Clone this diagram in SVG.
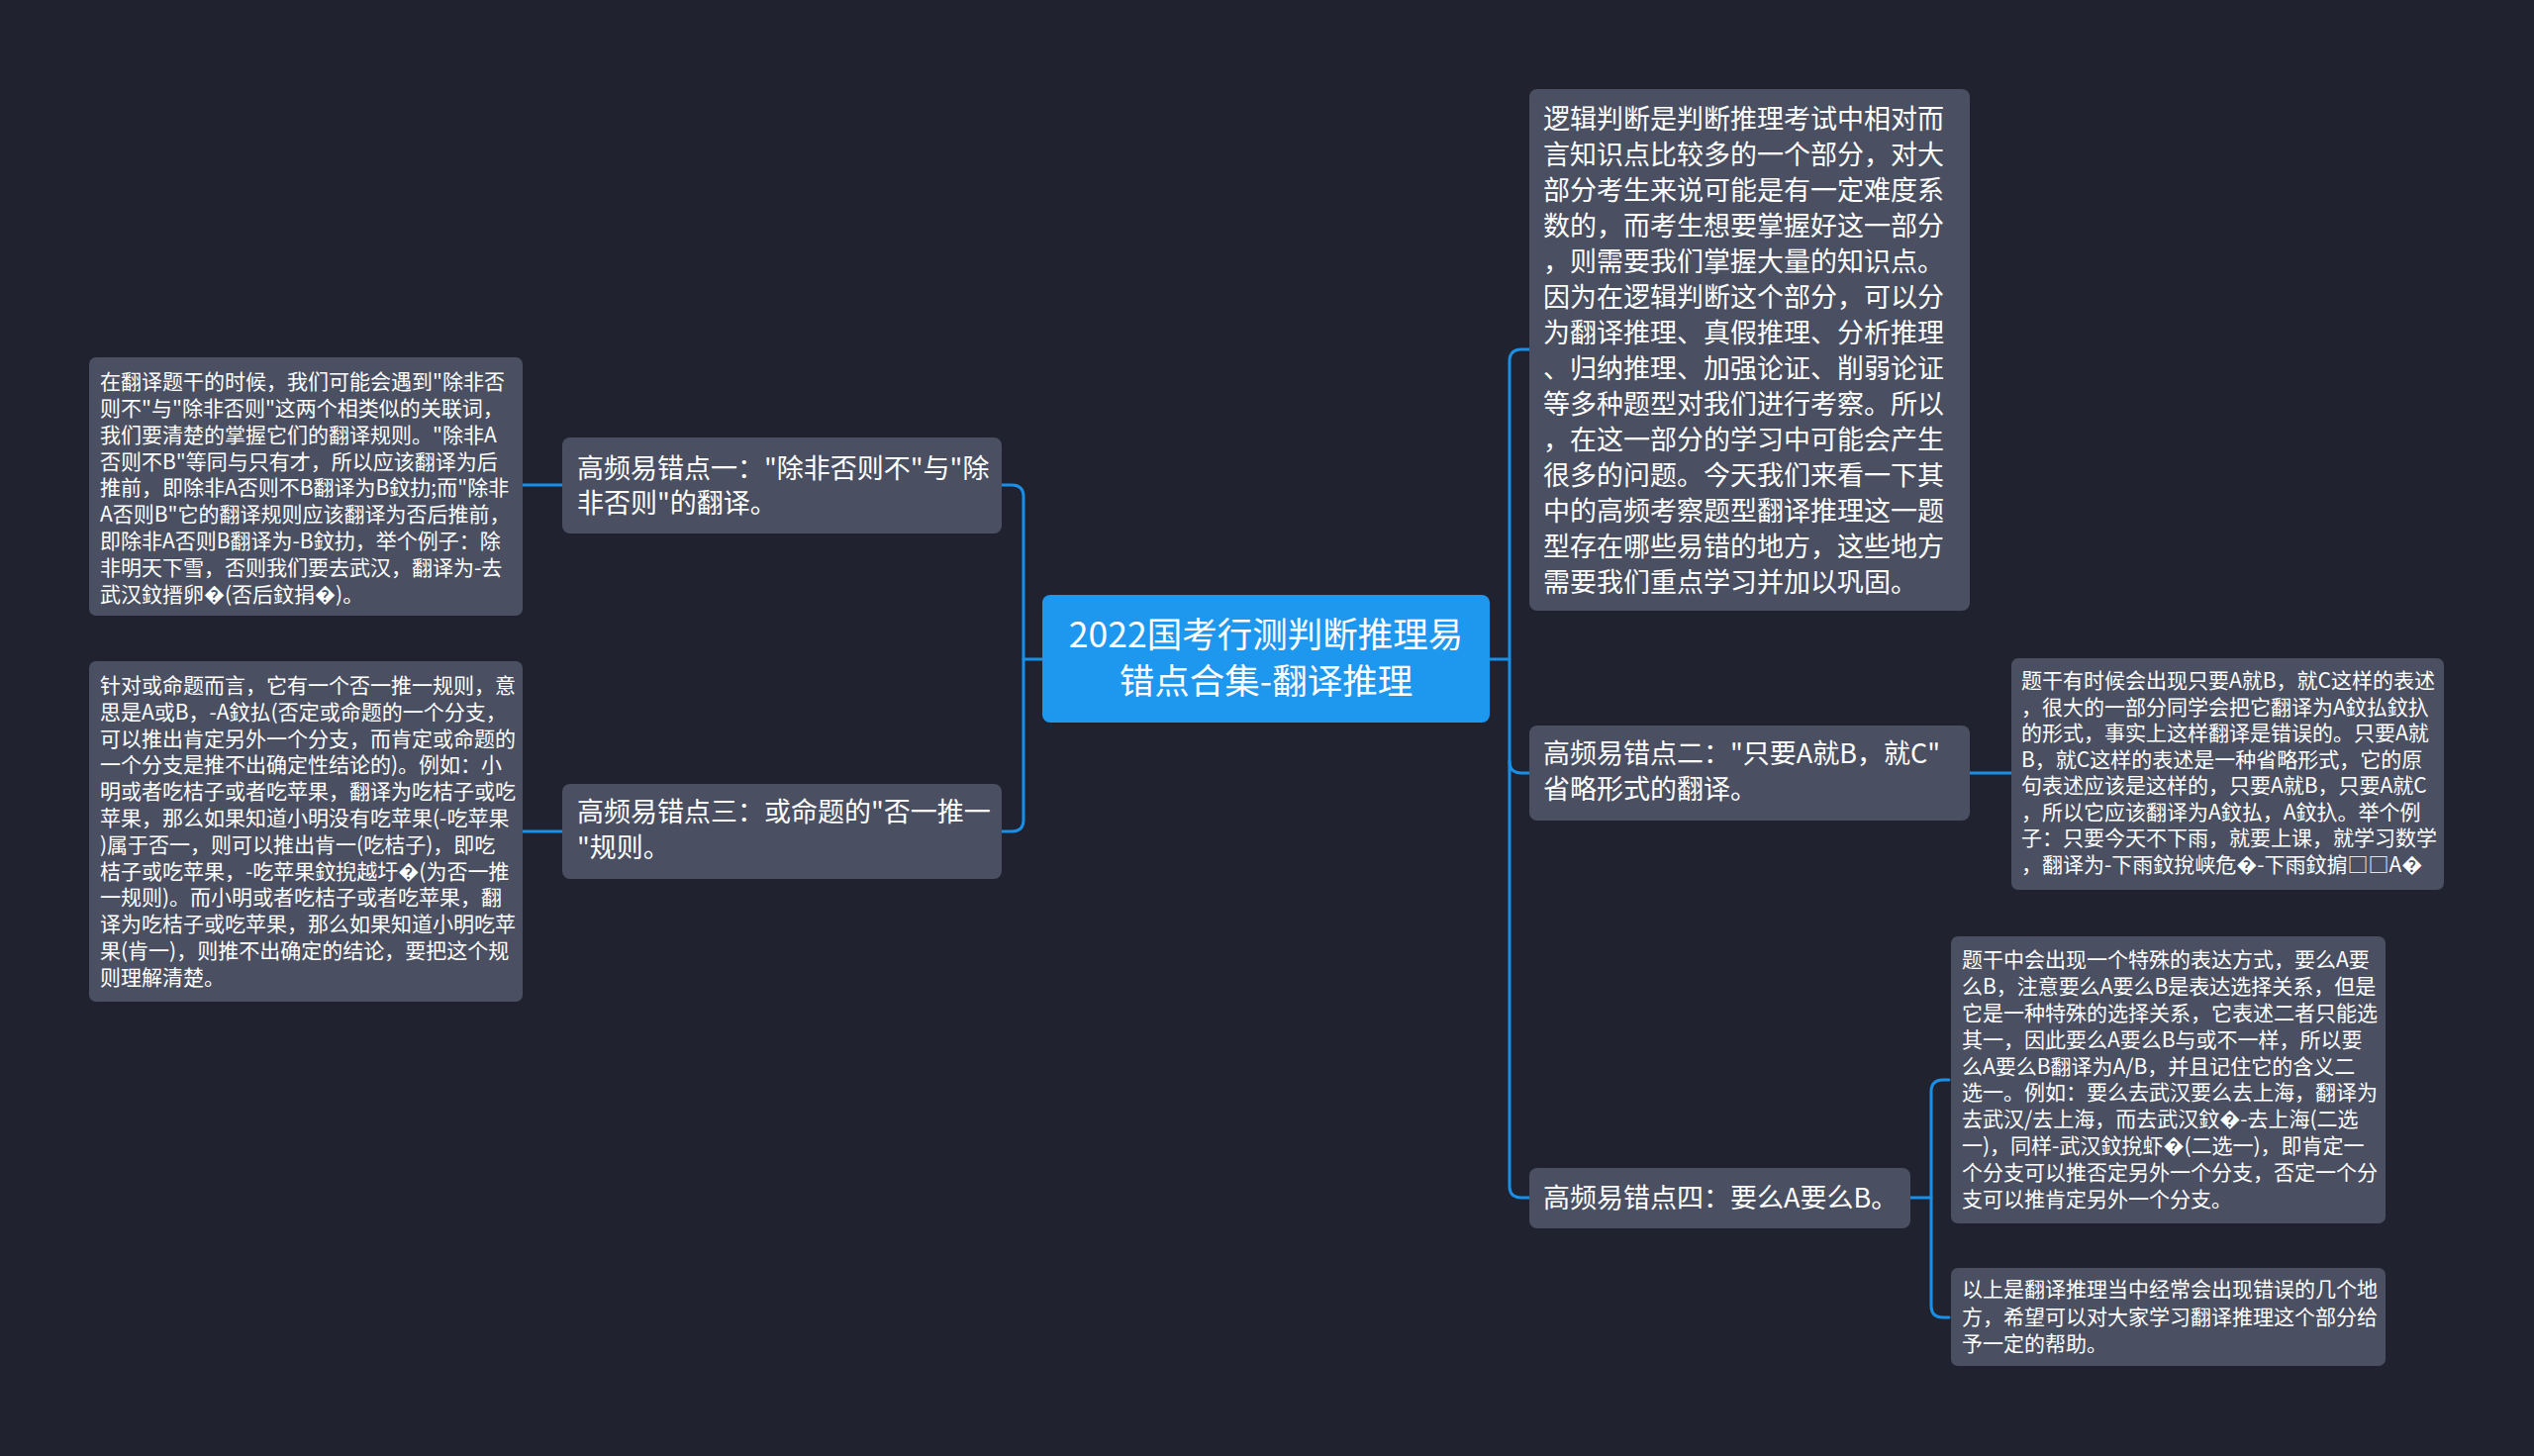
<svg xmlns="http://www.w3.org/2000/svg" width="2560" height="1471" viewBox="0 0 2560 1471">
<style>
.bg{fill:#20232f}
.node{fill:#4a5062}
.root{fill:#1e97ef}
.t{font-family:"Noto Sans CJK SC","Noto Sans",sans-serif;fill:#ffffff}
.leaf{font-size:21px}
.br{font-size:27px}
.rt{font-size:35.5px}
.edge{fill:none;stroke:#1b8fe6;stroke-width:3;stroke-linecap:round}
</style>
<rect class="bg" x="0" y="0" width="2560" height="1471"/>
<g id="connectors">
<path class="edge" d="M1034 666 H1053"/>
<path class="edge" d="M1012 490 H1022 Q1034 490 1034 502 V828 Q1034 840 1022 840 H1012"/>
<path class="edge" d="M527 490 H568"/>
<path class="edge" d="M527 840 H568"/>
<path class="edge" d="M1505 666 H1525"/>
<path class="edge" d="M1545 353 H1537 Q1525 353 1525 365 V1198 Q1525 1210 1537 1210 H1545"/>
<path class="edge" d="M1525 769 Q1525 781 1537 781 H1545"/>
<path class="edge" d="M1990 781 H2033"/>
<path class="edge" d="M1930 1210 H1951"/>
<path class="edge" d="M1969 1091 H1963 Q1951 1091 1951 1103 V1319 Q1951 1331 1963 1331 H1969"/>
</g>
<g id="root">
<rect class="root" x="1053" y="601" width="452" height="129" rx="8"/>
<text class="t rt" text-anchor="middle"><tspan x="1279" y="654">2022国考行测判断推理易</tspan><tspan x="1279" y="701">错点合集-翻译推理</tspan></text>
</g>
<g id="branch1">
<rect class="node" x="568" y="442" width="444" height="97" rx="8"/>
<text class="t br"><tspan x="583" y="483">高频易错点一："除非否则不"与"除</tspan><tspan x="583" y="518">非否则"的翻译。</tspan></text>
</g>
<g id="leaf1">
<rect class="node" x="90" y="361" width="438" height="261" rx="7"/>
<text class="t leaf">
<tspan x="101" y="393">在翻译题干的时候，我们可能会遇到"除非否</tspan>
<tspan x="101" y="420">则不"与"除非否则"这两个相类似的关联词，</tspan>
<tspan x="101" y="447">我们要清楚的掌握它们的翻译规则。"除非A</tspan>
<tspan x="101" y="474">否则不B"等同与只有才，所以应该翻译为后</tspan>
<tspan x="101" y="500">推前，即除非A否则不B翻译为B鈫扐;而"除非</tspan>
<tspan x="101" y="527">A否则B"它的翻译规则应该翻译为否后推前，</tspan>
<tspan x="101" y="554">即除非A否则B翻译为-B鈫扐，举个例子：除</tspan>
<tspan x="101" y="581">非明天下雪，否则我们要去武汉，翻译为-去</tspan>
<tspan x="101" y="608">武汉鈫搢卵�(否后鈫捐�)。</tspan>
</text>
</g>
<g id="branch3">
<rect class="node" x="568" y="792" width="444" height="96" rx="8"/>
<text class="t br"><tspan x="583" y="830">高频易错点三：或命题的"否一推一</tspan><tspan x="583" y="866">"规则。</tspan></text>
</g>
<g id="leaf2">
<rect class="node" x="90" y="668" width="438" height="344" rx="7"/>
<text class="t leaf">
<tspan x="101" y="700">针对或命题而言，它有一个否一推一规则，意</tspan>
<tspan x="101" y="727">思是A或B，-A鈫払(否定或命题的一个分支，</tspan>
<tspan x="101" y="754">可以推出肯定另外一个分支，而肯定或命题的</tspan>
<tspan x="101" y="780">一个分支是推不出确定性结论的)。例如：小</tspan>
<tspan x="101" y="807">明或者吃桔子或者吃苹果，翻译为吃桔子或吃</tspan>
<tspan x="101" y="834">苹果，那么如果知道小明没有吃苹果(-吃苹果</tspan>
<tspan x="101" y="861">)属于否一，则可以推出肯一(吃桔子)，即吃</tspan>
<tspan x="101" y="888">桔子或吃苹果，-吃苹果鈫掜越圩�(为否一推</tspan>
<tspan x="101" y="914">一规则)。而小明或者吃桔子或者吃苹果，翻</tspan>
<tspan x="101" y="941">译为吃桔子或吃苹果，那么如果知道小明吃苹</tspan>
<tspan x="101" y="968">果(肯一)，则推不出确定的结论，要把这个规</tspan>
<tspan x="101" y="995">则理解清楚。</tspan>
</text>
</g>
<g id="intro">
<rect class="node" x="1545" y="90" width="445" height="527" rx="8"/>
<text class="t br">
<tspan x="1559" y="130">逻辑判断是判断推理考试中相对而</tspan>
<tspan x="1559" y="166">言知识点比较多的一个部分，对大</tspan>
<tspan x="1559" y="202">部分考生来说可能是有一定难度系</tspan>
<tspan x="1559" y="238">数的，而考生想要掌握好这一部分</tspan>
<tspan x="1559" y="274">，则需要我们掌握大量的知识点。</tspan>
<tspan x="1559" y="310">因为在逻辑判断这个部分，可以分</tspan>
<tspan x="1559" y="346">为翻译推理、真假推理、分析推理</tspan>
<tspan x="1559" y="382">、归纳推理、加强论证、削弱论证</tspan>
<tspan x="1559" y="418">等多种题型对我们进行考察。所以</tspan>
<tspan x="1559" y="454">，在这一部分的学习中可能会产生</tspan>
<tspan x="1559" y="490">很多的问题。今天我们来看一下其</tspan>
<tspan x="1559" y="526">中的高频考察题型翻译推理这一题</tspan>
<tspan x="1559" y="562">型存在哪些易错的地方，这些地方</tspan>
<tspan x="1559" y="598">需要我们重点学习并加以巩固。</tspan>
</text>
</g>
<g id="branch2">
<rect class="node" x="1545" y="733" width="445" height="96" rx="8"/>
<text class="t br"><tspan x="1559" y="771">高频易错点二："只要A就B，就C"</tspan><tspan x="1559" y="807">省略形式的翻译。</tspan></text>
</g>
<g id="leaf3">
<rect class="node" x="2032" y="665" width="437" height="234" rx="7"/>
<text class="t leaf">
<tspan x="2042" y="695">题干有时候会出现只要A就B，就C这样的表述</tspan>
<tspan x="2042" y="722">，很大的一部分同学会把它翻译为A鈫払鈫扖</tspan>
<tspan x="2042" y="748">的形式，事实上这样翻译是错误的。只要A就</tspan>
<tspan x="2042" y="775">B，就C这样的表述是一种省略形式，它的原</tspan>
<tspan x="2042" y="801">句表述应该是这样的，只要A就B，只要A就C</tspan>
<tspan x="2042" y="828">，所以它应该翻译为A鈫払，A鈫扖。举个例</tspan>
<tspan x="2042" y="854">子：只要今天不下雨，就要上课，就学习数学</tspan>
<tspan x="2042" y="881">，翻译为-下雨鈫挩峡危�-下雨鈫掮□□A�</tspan>
</text>
</g>
<g id="branch4">
<rect class="node" x="1545" y="1180" width="385" height="61" rx="8"/>
<text class="t br"><tspan x="1559" y="1220">高频易错点四：要么A要么B。</tspan></text>
</g>
<g id="leaf4">
<rect class="node" x="1971" y="946" width="439" height="290" rx="7"/>
<text class="t leaf">
<tspan x="1982" y="977">题干中会出现一个特殊的表达方式，要么A要</tspan>
<tspan x="1982" y="1004">么B，注意要么A要么B是表达选择关系，但是</tspan>
<tspan x="1982" y="1031">它是一种特殊的选择关系，它表述二者只能选</tspan>
<tspan x="1982" y="1058">其一，因此要么A要么B与或不一样，所以要</tspan>
<tspan x="1982" y="1085">么A要么B翻译为A/B，并且记住它的含义二</tspan>
<tspan x="1982" y="1111">选一。例如：要么去武汉要么去上海，翻译为</tspan>
<tspan x="1982" y="1138">去武汉/去上海，而去武汉鈫�-去上海(二选</tspan>
<tspan x="1982" y="1165">一)，同样-武汉鈫挩虾�(二选一)，即肯定一</tspan>
<tspan x="1982" y="1192">个分支可以推否定另外一个分支，否定一个分</tspan>
<tspan x="1982" y="1219">支可以推肯定另外一个分支。</tspan>
</text>
</g>
<g id="leaf5">
<rect class="node" x="1971" y="1281" width="439" height="99" rx="7"/>
<text class="t leaf">
<tspan x="1982" y="1310">以上是翻译推理当中经常会出现错误的几个地</tspan>
<tspan x="1982" y="1338">方，希望可以对大家学习翻译推理这个部分给</tspan>
<tspan x="1982" y="1365">予一定的帮助。</tspan>
</text>
</g>
</svg>
